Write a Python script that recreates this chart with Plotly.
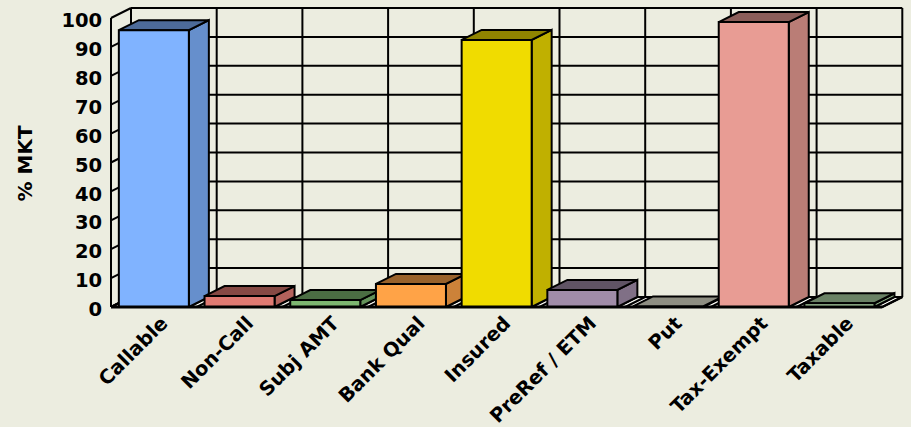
import plotly.graph_objects as go

categories = ["Callable", "Non-Call", "Subj AMT", "Bank Qual", "Insured", "PreRef / ETM", "Put", "Tax-Exempt", "Taxable"]
values = [95.8, 3.8, 2.4, 8.0, 92.4, 5.9, 0.2, 98.6, 1.3]
front_colors = ["#80B3FF", "#E07A72", "#7DB670", "#FFA347", "#F0DC00", "#A08CA8", "#ECEDD8", "#E89C94", "#B0D8A8"]
y_ticks = list(range(0, 101, 10))

BG = "#ECEDE0"
INK = "#000000"
PX_X = 85.7
PX_Y = 2.89
DX = 20 / PX_X      # depth offset in x units
DY = 10 / PX_Y      # depth offset in y units
BAR = 0.817
LABEL_SHIFT = 0.095
Y_LABEL_SHIFT = 0.8
N = len(categories)
X_LO, X_HI = -3 / PX_X, (905 - 111) / PX_X
Y_LO, Y_HI = -3 / PX_Y, (307 - 5) / PX_Y


def shade(hex_color, k):
    r, g, b = (int(hex_color[i:i + 2], 16) for i in (1, 3, 5))
    return f"rgb({round(r * k)},{round(g * k)},{round(b * k)})"


def line_trace(xs, ys, width=2):
    return go.Scatter(x=xs, y=ys, mode="lines", line=dict(color=INK, width=width),
                      hoverinfo="skip", showlegend=False)


def face(xs, ys, color, name):
    return go.Scatter(x=xs, y=ys, mode="lines", fill="toself", fillcolor=color,
                      line=dict(color=INK, width=2), name=name, showlegend=False,
                      hoverinfo="name")


fig = go.Figure()

# floor
fig.add_trace(go.Scatter(x=[0, N, N + DX, DX, 0], y=[0, 0, DY, DY, 0], mode="lines", fill="toself",
                         fillcolor="#F8F8F2", line=dict(color=INK, width=2), hoverinfo="skip",
                         showlegend=False))

# back wall grid, left wall ticks, floor dividers
gx, gy = [], []
for t in y_ticks:
    gx += [DX, N + DX, None]
    gy += [t + DY, t + DY, None]
    gx += [0, DX, None]
    gy += [t, t + DY, None]
for i in range(N + 1):
    gx += [i + DX, i + DX, None]
    gy += [DY, 100 + DY, None]
    gx += [i, i + DX, None]
    gy += [0, DY, None]
gx += [0, 0]
gy += [0, 100]
fig.add_trace(line_trace(gx, gy))

# bars: footprint, side, top, front
for i, (cat, v, c) in enumerate(zip(categories, values, front_colors)):
    x0 = i + (1 - BAR) / 2
    x1 = x0 + BAR
    fig.add_trace(line_trace([x0, x0 + DX, x1 + DX, x1, x0], [0, DY, DY, 0, 0]))
    fig.add_trace(face([x1, x1 + DX, x1 + DX, x1, x1], [0, DY, v + DY, v, 0], shade(c, 0.8), cat))
    fig.add_trace(face([x0, x0 + DX, x1 + DX, x1, x0], [v, v + DY, v + DY, v, v], shade(c, 0.6), cat))
    fig.add_trace(face([x0, x1, x1, x0, x0], [0, 0, v, v, 0], c, f"{cat}: {v}"))

# front axis line
fig.add_trace(line_trace([0, N], [0, 0], width=3))

fig.update_layout(
    width=911, height=427,
    margin=dict(l=111 - 3, r=6, t=5, b=120 - 3, pad=0),
    paper_bgcolor=BG, plot_bgcolor=BG,
    showlegend=False,
    font=dict(family="DejaVu Sans", color=INK),
    xaxis=dict(range=[X_LO, X_HI], automargin=False, showgrid=False, zeroline=False, showline=False,
               tickmode="array", tickvals=[i + 0.5 + LABEL_SHIFT for i in range(N)], ticktext=categories,
               tickangle=-45, ticks="outside", ticklen=1, tickcolor="rgba(0,0,0,0)", ticklabelstandoff=-8,
               tickfont=dict(family="DejaVu Sans", size=19.5, weight="bold")),
    yaxis=dict(range=[Y_LO, Y_HI], automargin=False, showgrid=False, zeroline=False, showline=False,
               tickmode="array", tickvals=[t - Y_LABEL_SHIFT for t in y_ticks], ticktext=[str(t) for t in y_ticks],
               ticks="outside", ticklen=1, tickcolor="rgba(0,0,0,0)",
               tickfont=dict(family="DejaVu Sans", size=19.5, weight="bold")),
    annotations=[dict(text="<b>% MKT</b>", textangle=-90, xref="paper", yref="y", x=(24.5 - 108) / 797, y=49.5,
                      xanchor="center", yanchor="middle", showarrow=False,
                      font=dict(family="DejaVu Sans", size=20, color=INK))],
)

fig.write_html("out.html", config={"displayModeBar": False},
               post_script="document.body.style.margin='0';document.body.style.overflow='hidden';document.body.style.background='%s';" % BG)
